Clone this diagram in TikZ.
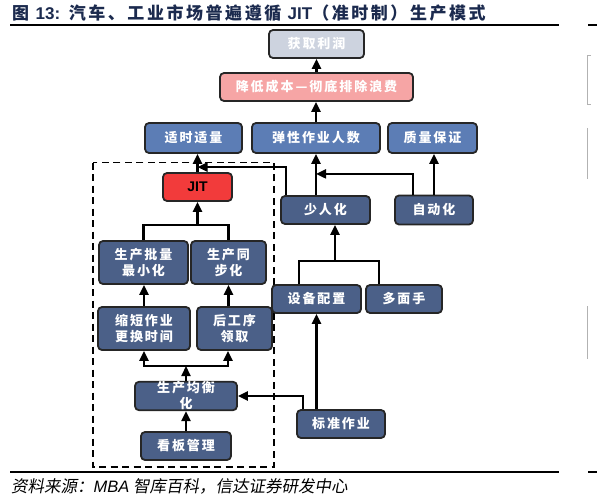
\documentclass[tikz,border=0pt]{standalone}
\usepackage{fontspec}
\usetikzlibrary{arrows.meta,calc}
\newfontfamily\cjk{Noto Sans CJK SC}
\newfontfamily\titlefont[LetterSpace=15]{Noto Sans CJK SC}
\newfontfamily\boxfont[LetterSpace=15]{Noto Sans CJK SC}
\newfontfamily\srcfont[FakeSlant=0.18]{Noto Sans CJK SC}
\newfontfamily\lat{Liberation Sans}
\definecolor{titlecol}{HTML}{1B2A4E}
\definecolor{grayfill}{HTML}{CDD3DF}
\definecolor{pinkfill}{HTML}{F6A5A5}
\definecolor{bluefill}{HTML}{5C7DB5}
\definecolor{slatefill}{HTML}{4B6088}
\definecolor{jitred}{HTML}{F23B3B}
\begin{document}
\begin{tikzpicture}
[x=1pt, y=-1pt,
 darkbox/.style={draw=black!85, line width=1.8pt, rounded corners=4pt, inner sep=0pt,
   align=center, text=white, fill=slatefill, minimum height=28pt,
   font=\boxfont\bfseries\fontsize{13}{16}\selectfont},
 bluebox/.style={darkbox, fill=bluefill, minimum height=30pt},
 arr/.style={line width=2.2pt, -{Triangle[length=10pt,width=9pt]}},
 link/.style={line width=2.2pt}]
\useasboundingbox (0,0) rectangle (597,500);
% title and rules
\node[anchor=west, text=titlecol, inner sep=0pt, font=\titlefont\bfseries\fontsize{17}{19}\selectfont]
  (title) at (12,13) {图 {\lat 13:} 汽车、工业市场普遍遵循 {\lat JIT}（准时制）生产模式};
\draw[line width=1.5pt] (10,25) -- (559,25) (588,25) -- (597,25);
\draw[line width=1.5pt] (10,472) -- (559,472) (588,472) -- (597,472);
\draw[black!30, line width=0.8pt] (591,55) -- (587,55) -- (587,104) -- (591,104)
  (587,128) -- (587,179) (587,306) -- (587,359);
\node[anchor=west, inner sep=0pt, font=\srcfont\fontsize{16.5}{18}\selectfont]
  (src) at (11,486) {资料来源：{\lat\itshape MBA} 智库百科，信达证券研发中心};
% JIT frame
\draw[line width=1.6pt, dash pattern=on 7pt off 4.5pt] (92.7,162.7) rectangle (274,466.7);
% boxes
\node[darkbox, fill=grayfill, minimum width=95pt] (gain) at (316.5,44) {获取利润};
\node[darkbox, fill=pinkfill, minimum width=193pt] (cost) at (316.5,87) {降低成本—彻底排除浪费};
\node[bluebox, minimum width=97pt] (just) at (193.5,138) {适时适量};
\node[bluebox, minimum width=128pt] (flex) at (316,138) {弹性作业人数};
\node[bluebox, minimum width=89pt] (qual) at (432.5,138) {质量保证};
\node[darkbox, fill=jitred, text=black, minimum width=69pt,
  font=\lat\bfseries\fontsize{14}{16}\selectfont] (jit) at (197.5,187) {JIT};
\node[darkbox, minimum width=89pt] (fewman) at (325.5,210) {少人化};
\node[darkbox, minimum width=78pt, minimum height=29pt] (auto) at (434,210) {自动化};
\node[darkbox, minimum width=89pt, minimum height=43pt] (lot) at (143.5,262.5) {生产批量\\最小化};
\node[darkbox, minimum width=75pt, minimum height=43pt] (sync) at (228.5,262.5) {生产同\\步化};
\node[darkbox, minimum width=89pt] (equip) at (316.5,299) {设备配置};
\node[darkbox, minimum width=76pt] (multi) at (404,299) {多面手};
\node[darkbox, minimum width=92pt, minimum height=43pt] (setup) at (144,328.5) {缩短作业\\更换时间};
\node[darkbox, minimum width=75pt, minimum height=43pt] (pull) at (234.5,328.5) {后工序\\领取};
\node[darkbox, minimum width=102pt] (level) at (186,396) {生产均衡\\化};
\node[darkbox, minimum width=90pt] (kanban) at (186,446) {看板管理};
\node[darkbox, minimum width=88pt] (std) at (341,424) {标准作业};
% junctions
\coordinate (merge1) at (197.5,225);
\coordinate (merge2) at (335,261);
\coordinate (split) at (186,366);
% connectors
\draw[arr] (cost) -- (gain);
\draw[arr] (flex.north) -- (flex.north |- cost.south);
\draw[arr] (jit.north) -- (jit.north |- just.south);
\draw[arr] ([xshift=6pt]fewman.north west) |- ([yshift=5pt]jit.north);
\draw[arr] (flex.south |- fewman.north) -- (flex.south);
\draw[arr] ([xshift=-21pt]auto.north) |- ($(flex.south)+(0,20)$);
\draw[arr] (auto.north) -- (auto.north |- qual.south);
\draw[link] ([xshift=-17.5pt]equip.north) |- ([xshift=-25pt]multi.north |- merge2) -- ([xshift=-25pt]multi.north);
\draw[arr] (merge2) -- (merge2 |- fewman.south);
\draw[link] (lot.north) |- (sync.north |- merge1) -- (sync.north);
\draw[arr] (merge1) -- (jit.south);
\draw[arr] (setup.north) -- (setup.north |- lot.south);
\draw[arr] (sync.south |- pull.north) -- (sync.south);
\draw[arr] (level.north) -- (split);
\draw[arr] (split) -| (setup.south);
\draw[arr] (split) -| ([xshift=-6.5pt]pull.south);
\draw[arr] (kanban) -- (level);
\draw[arr] ([xshift=-38pt]std.north) |- (level.east);
\draw[arr] (equip.south |- std.north) -- (equip.south);
\end{tikzpicture}
\end{document}
